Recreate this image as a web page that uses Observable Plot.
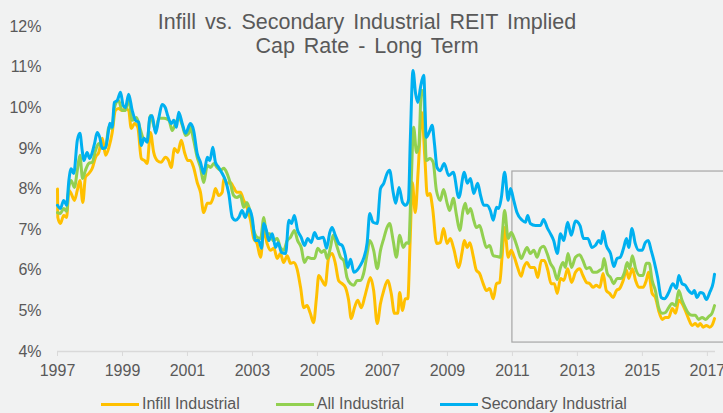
<!DOCTYPE html>
<html><head><meta charset="utf-8">
<script src="https://cdn.jsdelivr.net/npm/d3@7"></script>
<script src="https://cdn.jsdelivr.net/npm/@observablehq/plot@0.6"></script>
<style>
html,body{margin:0;padding:0;background:#f1f2f2;overflow:hidden}
#wrap{position:relative;width:723px;height:413px;overflow:hidden;font-family:"Liberation Sans",Arial,sans-serif;color:#595959}
#title{position:absolute;top:10px;left:367px;transform:translateX(-50%);text-align:center;font-size:21.5px;line-height:24px;word-spacing:3px;white-space:nowrap}
#legend{position:absolute;top:396px;left:101px;display:flex;align-items:center;height:16px;font-size:16px;line-height:16px;white-space:nowrap}
.item{display:flex;align-items:center;margin-right:36px}
.sw{width:38px;height:3px;margin-right:3px}
</style></head>
<body>
<div id="wrap"><div id="chart"></div><div id="title">Infill vs. Secondary Industrial REIT Implied<br>Cap Rate - Long Term</div><div id="legend"></div></div>
<script>
const seriesNames = ["Infill Industrial", "All Industrial", "Secondary Industrial"];
const seriesColors = ["#FFC000", "#92D050", "#00B0F0"];
const xTicks = [1997, 1999, 2001, 2003, 2005, 2007, 2009, 2011, 2013, 2015, 2017];
const yTicks = [4, 5, 6, 7, 8, 9, 10, 11, 12];
const highlight = [{x1: 2011, x2: 2018, y1: 4.22, y2: 8.43}];

const infill = [[1997.00,8.00],[1997.01,7.30],[1997.09,7.15],[1997.19,7.35],[1997.28,7.30],[1997.35,7.97],[1997.42,7.89],[1997.52,7.72],[1997.61,7.97],[1997.69,8.21],[1997.78,7.67],[1997.86,8.29],[1997.96,8.38],[1998.07,8.51],[1998.17,8.78],[1998.27,8.90],[1998.38,9.25],[1998.48,8.83],[1998.58,9.02],[1998.68,9.37],[1998.78,9.93],[1998.88,9.98],[1998.99,9.93],[1999.09,9.98],[1999.19,9.93],[1999.27,9.49],[1999.37,9.61],[1999.47,9.52],[1999.58,8.75],[1999.68,8.70],[1999.76,8.63],[1999.86,9.39],[1999.96,8.90],[2000.07,8.70],[2000.19,8.66],[2000.32,8.78],[2000.42,8.70],[2000.50,8.53],[2000.60,9.00],[2000.70,8.90],[2000.81,9.20],[2000.91,8.90],[2001.01,8.70],[2001.09,8.70],[2001.19,8.53],[2001.30,8.16],[2001.40,7.92],[2001.50,7.42],[2001.61,7.65],[2001.71,7.65],[2001.79,7.79],[2001.86,8.01],[2001.96,7.84],[2002.07,7.92],[2002.12,8.26],[2002.22,8.14],[2002.32,8.16],[2002.42,8.04],[2002.52,7.92],[2002.63,7.92],[2002.73,7.72],[2002.83,7.55],[2002.94,7.23],[2003.04,6.78],[2003.14,6.66],[2003.25,6.32],[2003.35,6.98],[2003.45,6.66],[2003.55,6.49],[2003.66,6.54],[2003.76,6.29],[2003.86,6.41],[2003.96,6.19],[2004.07,6.36],[2004.17,6.17],[2004.27,6.19],[2004.37,6.04],[2004.48,5.58],[2004.58,5.08],[2004.68,5.13],[2004.78,4.94],[2004.88,4.71],[2004.97,5.33],[2005.04,5.87],[2005.14,5.75],[2005.24,5.63],[2005.34,6.29],[2005.45,6.41],[2005.55,6.17],[2005.65,5.75],[2005.76,5.67],[2005.86,5.58],[2005.96,5.26],[2006.04,4.81],[2006.14,5.08],[2006.24,5.26],[2006.35,5.08],[2006.45,5.33],[2006.53,5.58],[2006.63,5.82],[2006.73,5.50],[2006.84,4.69],[2006.94,5.18],[2007.04,5.50],[2007.16,5.75],[2007.27,5.43],[2007.37,4.94],[2007.47,4.94],[2007.53,5.45],[2007.62,5.01],[2007.70,5.30],[2007.78,5.30],[2007.85,6.66],[2007.92,8.16],[2008.01,7.42],[2008.10,8.46],[2008.21,9.89],[2008.31,8.70],[2008.38,7.84],[2008.46,7.89],[2008.54,7.55],[2008.67,6.66],[2008.78,6.68],[2008.88,7.03],[2008.99,6.66],[2009.09,6.78],[2009.19,6.54],[2009.35,6.07],[2009.45,6.44],[2009.52,6.73],[2009.61,6.56],[2009.69,6.68],[2009.79,6.36],[2009.89,6.00],[2009.99,5.92],[2010.10,5.67],[2010.20,5.50],[2010.30,5.55],[2010.41,5.30],[2010.51,5.67],[2010.61,5.70],[2010.68,6.32],[2010.76,7.05],[2010.87,6.32],[2010.96,6.49],[2011.06,6.32],[2011.16,6.07],[2011.27,5.85],[2011.35,6.07],[2011.45,6.19],[2011.55,6.07],[2011.68,6.07],[2011.78,5.82],[2011.89,6.24],[2011.98,6.24],[2012.09,6.00],[2012.19,5.67],[2012.29,5.67],[2012.38,5.43],[2012.48,5.80],[2012.58,5.75],[2012.70,6.04],[2012.82,5.70],[2012.94,5.95],[2013.07,6.04],[2013.17,5.87],[2013.28,5.70],[2013.38,5.67],[2013.48,5.58],[2013.58,5.63],[2013.69,5.58],[2013.79,5.92],[2013.89,5.50],[2013.99,5.43],[2014.10,5.33],[2014.20,5.50],[2014.30,5.55],[2014.41,5.75],[2014.51,6.00],[2014.58,5.80],[2014.69,6.04],[2014.79,5.75],[2014.89,5.58],[2015.02,5.58],[2015.12,5.75],[2015.19,5.95],[2015.30,5.43],[2015.40,5.33],[2015.50,5.01],[2015.61,4.79],[2015.71,4.84],[2015.81,4.84],[2015.92,5.06],[2016.02,4.94],[2016.12,5.26],[2016.22,5.18],[2016.32,5.01],[2016.42,4.81],[2016.53,4.64],[2016.63,4.69],[2016.71,4.62],[2016.78,4.69],[2016.87,4.60],[2016.97,4.64],[2017.07,4.60],[2017.14,4.64],[2017.22,4.81]];

const allIndustrial = [[1997.00,7.42],[1997.09,7.40],[1997.19,7.52],[1997.28,7.45],[1997.35,8.04],[1997.42,8.21],[1997.52,8.04],[1997.61,8.46],[1997.69,8.83],[1997.77,8.26],[1997.86,8.46],[1997.96,8.63],[1998.07,8.66],[1998.17,8.95],[1998.27,9.12],[1998.38,9.00],[1998.48,9.02],[1998.58,9.52],[1998.68,9.49],[1998.75,10.00],[1998.88,10.18],[1998.99,9.93],[1999.09,9.93],[1999.19,10.23],[1999.30,9.69],[1999.43,9.76],[1999.53,9.52],[1999.64,9.25],[1999.76,9.20],[1999.86,9.81],[2000.02,9.44],[2000.12,9.74],[2000.28,9.74],[2000.43,9.69],[2000.53,9.44],[2000.63,9.61],[2000.73,9.76],[2000.84,9.57],[2000.94,9.32],[2001.04,9.37],[2001.09,9.52],[2001.19,9.20],[2001.30,8.78],[2001.40,8.53],[2001.50,8.16],[2001.61,8.58],[2001.71,8.53],[2001.81,8.63],[2001.91,8.53],[2002.01,8.46],[2002.12,8.51],[2002.22,8.38],[2002.32,8.14],[2002.42,7.84],[2002.52,7.79],[2002.63,7.84],[2002.73,7.55],[2002.83,7.67],[2002.94,7.40],[2003.04,6.98],[2003.14,6.81],[2003.25,6.78],[2003.35,7.30],[2003.43,6.90],[2003.53,6.90],[2003.64,6.73],[2003.76,6.78],[2003.86,6.56],[2003.96,6.49],[2004.07,6.73],[2004.17,6.81],[2004.29,6.98],[2004.39,6.73],[2004.50,6.56],[2004.60,6.19],[2004.70,6.32],[2004.81,6.29],[2004.91,6.29],[2005.01,6.54],[2005.12,6.44],[2005.22,6.49],[2005.30,6.29],[2005.40,6.56],[2005.48,6.86],[2005.61,6.56],[2005.71,6.32],[2005.81,6.24],[2005.91,5.82],[2006.02,5.67],[2006.12,5.63],[2006.22,5.75],[2006.32,5.75],[2006.42,5.92],[2006.53,6.41],[2006.61,6.73],[2006.73,6.49],[2006.84,6.04],[2006.94,6.49],[2007.04,6.78],[2007.14,7.05],[2007.22,7.15],[2007.33,6.73],[2007.43,6.32],[2007.53,6.86],[2007.64,6.56],[2007.74,6.68],[2007.81,6.66],[2007.88,8.04],[2007.96,9.52],[2008.05,8.90],[2008.12,9.07],[2008.20,10.43],[2008.27,10.35],[2008.35,8.70],[2008.46,8.75],[2008.56,8.66],[2008.66,7.97],[2008.78,7.72],[2008.88,7.99],[2008.99,7.65],[2009.07,7.47],[2009.18,7.77],[2009.28,7.35],[2009.38,6.98],[2009.48,7.47],[2009.55,7.65],[2009.62,7.40],[2009.71,7.52],[2009.81,7.23],[2009.89,7.05],[2009.99,7.10],[2010.10,6.81],[2010.20,6.56],[2010.30,6.61],[2010.41,6.36],[2010.53,6.34],[2010.63,6.32],[2010.69,6.90],[2010.76,7.47],[2010.87,6.78],[2010.96,6.93],[2011.06,6.78],[2011.16,6.54],[2011.27,6.29],[2011.35,6.41],[2011.45,6.56],[2011.55,6.41],[2011.66,6.49],[2011.76,6.32],[2011.86,6.54],[2011.96,6.59],[2012.07,6.41],[2012.17,6.17],[2012.27,6.04],[2012.38,5.77],[2012.48,6.07],[2012.56,6.19],[2012.63,6.07],[2012.71,6.41],[2012.82,6.07],[2012.94,6.32],[2013.07,6.38],[2013.17,6.24],[2013.28,6.04],[2013.38,6.07],[2013.48,5.95],[2013.58,5.95],[2013.69,6.00],[2013.76,6.04],[2013.82,6.29],[2013.92,5.92],[2014.02,5.82],[2014.12,5.67],[2014.22,5.80],[2014.34,5.80],[2014.45,5.95],[2014.53,6.19],[2014.61,6.04],[2014.69,6.36],[2014.79,6.04],[2014.92,5.87],[2015.02,5.87],[2015.12,6.17],[2015.21,6.17],[2015.30,5.75],[2015.40,5.50],[2015.50,5.08],[2015.61,4.94],[2015.71,4.96],[2015.81,5.08],[2015.91,5.18],[2016.02,5.13],[2016.12,5.50],[2016.22,5.26],[2016.32,5.08],[2016.42,4.94],[2016.53,4.89],[2016.63,4.89],[2016.73,4.79],[2016.84,4.84],[2016.94,4.79],[2017.04,4.86],[2017.14,4.94],[2017.22,5.13]];

const secondary = [[1997.00,7.60],[1997.09,7.52],[1997.19,7.72],[1997.28,7.60],[1997.35,8.21],[1997.42,8.50],[1997.50,8.38],[1997.61,9.20],[1997.69,9.37],[1997.76,8.95],[1997.81,8.70],[1997.91,8.90],[1997.99,8.75],[1998.07,8.90],[1998.14,9.12],[1998.22,9.39],[1998.30,9.27],[1998.38,9.00],[1998.48,9.02],[1998.55,9.32],[1998.61,9.62],[1998.68,9.52],[1998.75,10.13],[1998.84,10.18],[1998.94,10.38],[1999.02,10.06],[1999.09,10.00],[1999.19,10.33],[1999.30,9.93],[1999.40,9.69],[1999.50,9.64],[1999.58,9.07],[1999.66,9.25],[1999.76,9.15],[1999.84,9.76],[1999.91,9.81],[2000.02,9.37],[2000.12,9.76],[2000.22,10.08],[2000.32,10.00],[2000.39,9.81],[2000.50,9.61],[2000.58,9.69],[2000.66,9.52],[2000.73,9.89],[2000.84,9.61],[2000.94,9.37],[2001.09,9.61],[2001.19,9.44],[2001.30,8.87],[2001.40,8.66],[2001.50,8.38],[2001.61,8.78],[2001.69,8.70],[2001.78,9.03],[2001.86,8.66],[2001.96,8.53],[2002.07,8.38],[2002.17,8.21],[2002.27,7.89],[2002.38,7.30],[2002.48,7.23],[2002.58,7.30],[2002.68,7.47],[2002.78,7.30],[2002.89,7.52],[2002.99,7.30],[2003.09,6.73],[2003.19,6.73],[2003.28,6.54],[2003.35,7.15],[2003.43,6.98],[2003.50,6.73],[2003.61,6.90],[2003.71,6.56],[2003.79,6.68],[2003.89,6.44],[2004.02,6.41],[2004.12,7.23],[2004.20,7.15],[2004.29,7.35],[2004.39,6.98],[2004.50,6.81],[2004.60,6.61],[2004.70,6.78],[2004.81,6.68],[2004.91,6.93],[2005.01,6.78],[2005.18,6.81],[2005.28,6.54],[2005.38,6.93],[2005.45,7.05],[2005.55,6.86],[2005.66,6.66],[2005.76,6.61],[2005.86,6.36],[2005.93,6.07],[2006.02,6.27],[2006.12,5.95],[2006.22,6.00],[2006.32,6.12],[2006.42,6.29],[2006.53,6.68],[2006.61,7.40],[2006.71,7.18],[2006.84,7.15],[2006.94,8.01],[2007.04,8.14],[2007.14,8.38],[2007.22,8.46],[2007.33,7.92],[2007.41,7.65],[2007.51,8.04],[2007.62,7.67],[2007.72,7.60],[2007.80,7.72],[2007.86,9.27],[2007.94,10.92],[2008.02,10.35],[2008.09,10.13],[2008.17,10.50],[2008.27,10.80],[2008.35,9.27],[2008.46,9.44],[2008.53,9.57],[2008.60,9.12],[2008.68,8.53],[2008.78,8.45],[2008.90,8.63],[2009.04,8.33],[2009.18,8.41],[2009.35,7.79],[2009.52,8.41],[2009.61,8.14],[2009.71,8.26],[2009.81,7.89],[2009.93,8.14],[2010.02,7.84],[2010.12,7.60],[2010.22,7.60],[2010.32,7.47],[2010.41,7.23],[2010.51,7.55],[2010.58,7.52],[2010.66,7.79],[2010.76,8.41],[2010.87,7.72],[2010.94,8.01],[2011.04,7.72],[2011.14,7.42],[2011.30,7.23],[2011.40,7.18],[2011.47,7.35],[2011.55,7.15],[2011.71,7.10],[2011.86,7.10],[2011.96,7.25],[2012.07,7.05],[2012.17,6.90],[2012.27,6.73],[2012.38,6.41],[2012.48,6.90],[2012.58,6.73],[2012.70,7.18],[2012.81,6.86],[2012.94,7.21],[2013.08,7.10],[2013.19,6.78],[2013.32,6.78],[2013.45,6.56],[2013.55,6.61],[2013.66,6.73],[2013.73,6.66],[2013.79,6.96],[2013.89,6.61],[2014.02,6.41],[2014.12,6.09],[2014.22,6.29],[2014.32,6.32],[2014.42,6.54],[2014.51,6.78],[2014.58,6.56],[2014.68,7.03],[2014.78,6.66],[2014.89,6.49],[2014.99,6.49],[2015.09,6.68],[2015.18,6.73],[2015.27,6.49],[2015.37,6.19],[2015.47,5.82],[2015.58,5.33],[2015.68,5.30],[2015.81,5.45],[2015.94,5.67],[2016.05,5.55],[2016.12,5.87],[2016.22,5.67],[2016.32,5.63],[2016.42,5.50],[2016.53,5.43],[2016.60,5.50],[2016.68,5.33],[2016.78,5.45],[2016.87,5.43],[2016.97,5.28],[2017.07,5.45],[2017.18,5.70],[2017.22,5.90]];

const seriesData = [infill, allIndustrial, secondary];
const rows = seriesData.flatMap((s, i) => s.map(([year, rate]) => ({series: seriesNames[i], year, rate})));

const chart = Plot.plot({
  width: 723, height: 380,
  marginTop: 26, marginBottom: 29, marginLeft: 57, marginRight: 8,
  style: {background: "transparent", fontFamily: "'Liberation Sans', Arial, sans-serif", fontSize: "16px", color: "#595959", overflow: "visible"},
  x: {type: "linear", domain: [1997, 2017.25]},
  y: {domain: [4, 12]},
  color: {domain: seriesNames, range: seriesColors},
  marks: [
    Plot.axisY(yTicks, {tickSize: 0, tickPadding: 16, tickFormat: d => d + "%", fontSize: 16, fill: "#595959", label: null}),
    Plot.axisX(xTicks, {tickSize: 5, tickPadding: 8, tickFormat: d => String(d), stroke: "#d9d9d9", fill: "#595959", fontSize: 16, label: null}),
    Plot.ruleY([4], {x1: 1997, x2: 2017.25, stroke: "#d9d9d9", strokeWidth: 1.3}),
    Plot.rect(highlight, {x1: "x1", x2: "x2", y1: "y1", y2: "y2", fill: "none", stroke: "#a6a6a6", strokeWidth: 1.2}),
    Plot.line(rows, {x: "year", y: "rate", z: "series", stroke: "series", strokeWidth: 3, curve: "monotone-x", strokeLinejoin: "round"})
  ]
});
document.getElementById("chart").appendChild(chart);

const legend = document.getElementById("legend");
seriesNames.forEach((name, i) => {
  const item = document.createElement("div");
  item.className = "item";
  const sw = document.createElement("div");
  sw.className = "sw";
  sw.style.background = seriesColors[i];
  const label = document.createElement("span");
  label.textContent = name;
  item.appendChild(sw);
  item.appendChild(label);
  legend.appendChild(item);
});
</script>
</body></html>
